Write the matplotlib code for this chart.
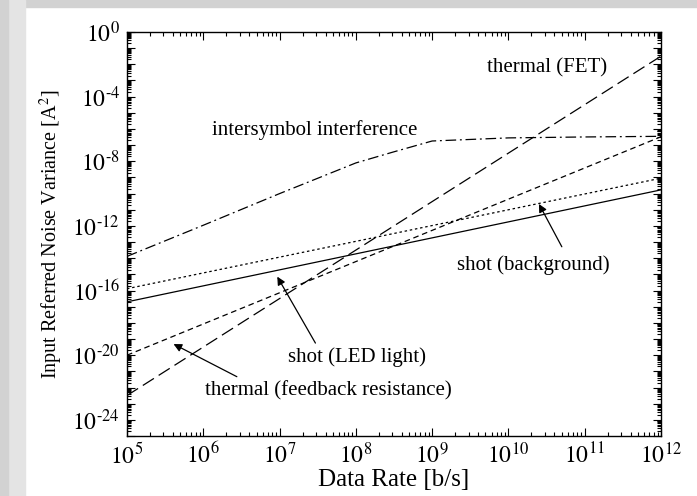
"""Input referred noise variance of an optical receiver versus data rate."""

import matplotlib.pyplot as plt
import numpy as np
from matplotlib.patches import Rectangle
from matplotlib.ticker import FixedLocator, FuncFormatter, NullFormatter

plt.rcParams["font.family"] = ["Liberation Serif", "DejaVu Serif"]
plt.rcParams["mathtext.fontset"] = "stix"

# Noise variance [A^2] at the ends of the data rate range [b/s]
RATE_ENDS = [1e5, 1e12]
SHOT_BACKGROUND = [2.0e-17, 1.7e-10]
SHOT_LED = [1.3e-16, 9.0e-10]
THERMAL_FEEDBACK = [1.0e-20, 3.3e-7]
THERMAL_FET = [3.2e-23, 3.2e-2]

# Intersymbol interference levels off above ~1 Gb/s
ISI_RATE = [1e5, 1e6, 1e7, 1e8, 3e8, 1e9, 1e10, 1e11, 1e12]
ISI = [1.3e-14, 1.1e-12, 1.0e-10, 7.9e-9, 3.6e-8, 1.8e-7, 2.8e-7, 3.2e-7, 3.5e-7]

X_DECADES = list(range(5, 13))
Y_DECADES = list(range(-25, 1))
Y_LABELLED = list(range(-24, 1, 4))


def power_label(exp):
    # plain hyphen in the exponent rather than a typographic minus
    sign = "\u2010" if exp < 0 else ""
    return rf"$10^{{{sign}{abs(exp)}}}$"


def y_label(value, pos):
    exp = int(round(np.log10(value)))
    return power_label(exp) if exp in Y_LABELLED else ""


def x_label(value, pos):
    return power_label(int(round(np.log10(value))))


def minor_ticks(decades):
    return [s * 10.0**d for d in decades[:-1] for s in range(2, 10)]


def main():
    fig = plt.figure(figsize=(6.97, 4.96), dpi=100)
    fig.patch.set_facecolor("white")

    # grey margin strips along the top and left edge
    fig.patches.append(Rectangle((0, 1 - 7 / 496), 1, 7 / 496,
                                 transform=fig.transFigure, color="#d2d2d2", zorder=0))
    fig.patches.append(Rectangle((0, 0), 25 / 697, 1,
                                 transform=fig.transFigure, color="#e4e4e4", zorder=0))
    fig.patches.append(Rectangle((0, 0), 8 / 697, 1,
                                 transform=fig.transFigure, color="#d2d2d2", zorder=0))

    ax = fig.add_axes([127 / 697, 1 - 436 / 496, 534 / 697, 404 / 496])

    lw = 0.9
    ax.loglog(RATE_ENDS, SHOT_BACKGROUND, color="black", lw=lw)
    ax.loglog(RATE_ENDS, SHOT_LED, color="black", lw=lw, dashes=(2.0, 2.2))
    ax.loglog(RATE_ENDS, THERMAL_FEEDBACK, color="black", lw=lw, dashes=(4.5, 3.0))
    ax.loglog(RATE_ENDS, THERMAL_FET, color="black", lw=lw, dashes=(10.5, 4.5))
    ax.loglog(ISI_RATE, ISI, color="black", lw=lw, dashes=(8.5, 3.0, 1.5, 3.0))

    ax.set_xlim(1e5, 1e12)
    ax.set_ylim(1e-25, 1e0)

    ax.xaxis.set_major_locator(FixedLocator([10.0**d for d in X_DECADES]))
    ax.xaxis.set_minor_locator(FixedLocator(minor_ticks(X_DECADES)))
    ax.xaxis.set_major_formatter(FuncFormatter(x_label))
    ax.xaxis.set_minor_formatter(NullFormatter())
    ax.yaxis.set_major_locator(FixedLocator([10.0**d for d in Y_DECADES]))
    ax.yaxis.set_minor_locator(FixedLocator(minor_ticks(Y_DECADES)))
    ax.yaxis.set_major_formatter(FuncFormatter(y_label))
    ax.yaxis.set_minor_formatter(NullFormatter())

    ax.tick_params(which="both", direction="in", top=True, right=True,
                   width=0.8, labelsize=17, colors="black")
    ax.tick_params(which="major", length=6, pad=5)
    ax.tick_params(which="minor", length=3)
    for spine in ax.spines.values():
        spine.set_linewidth(1.0)

    ax.set_xlabel("Data Rate [b/s]", fontsize=18, labelpad=0)
    ax.set_ylabel(r"Input Referred Noise Variance [A$^2$]", fontsize=14.5, labelpad=5)

    text_kw = dict(fontsize=15, ha="center", va="center")
    ax.text(10**10.50, 10**-2.23, "thermal (FET)", **text_kw)
    ax.text(10**7.46, 10**-6.06, "intersymbol interference", **text_kw)
    ax.text(10**10.32, 10**-14.42, "shot (background)", **text_kw)
    ax.text(10**8.01, 10**-20.1, "shot (LED light)", **text_kw)
    ax.text(10**7.64, 10**-22.2, "thermal (feedback resistance)", **text_kw)

    arrow_kw = dict(arrowstyle="-|>", color="black", lw=0.9, mutation_scale=12,
                    shrinkA=0, shrinkB=0)
    ax.annotate("", xy=(10**10.40, 10**-10.64), xytext=(10**10.70, 10**-13.29),
                arrowprops=arrow_kw)
    ax.annotate("", xy=(10**6.97, 10**-15.14), xytext=(10**7.47, 10**-19.25),
                arrowprops=arrow_kw)
    ax.annotate("", xy=(10**5.61, 10**-19.31), xytext=(10**6.44, 10**-21.33),
                arrowprops=arrow_kw)

    fig.savefig("out.png", dpi=100)


if __name__ == "__main__":
    main()
